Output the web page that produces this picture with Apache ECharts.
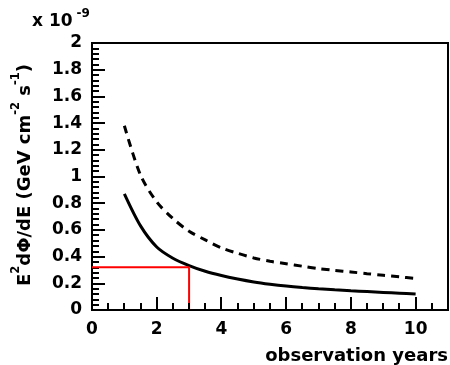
<!DOCTYPE html>
<html>
<head>
<meta charset="utf-8">
<script src="https://cdn.jsdelivr.net/npm/echarts@6/dist/echarts.min.js"></script>
<style>
  html, body { margin: 0; padding: 0; background: #fff; }
  #chart { width: 450px; height: 365px; }
</style>
</head>
<body>
<div id="chart"></div>
<script>
// Sensitivity (units of 1e-9 GeV cm^-2 s^-1) versus observation time in years
const years = [1.0, 1.5, 2.0, 2.5, 3.0, 3.5, 4.0, 4.5, 5.0, 5.5, 6.0, 6.5, 7.0, 7.5, 8.0, 8.5, 9.0, 9.5, 10.0];
const solidFlux  = [0.87, 0.63, 0.472, 0.388, 0.333, 0.29, 0.258, 0.232, 0.21, 0.193, 0.179, 0.168, 0.159, 0.151, 0.144, 0.138, 0.132, 0.126, 0.12];
const dashedFlux = [1.38, 1.01, 0.81, 0.685, 0.59, 0.525, 0.465, 0.425, 0.39, 0.365, 0.347, 0.328, 0.31, 0.297, 0.285, 0.272, 0.26, 0.248, 0.237];

// Reference marker: 3 years reaching 0.32
const markYears = 3;
const markFlux = 0.32;

const xTickLabels = ['0', '2', '4', '6', '8', '10'];
// Tick positions along the time axis (every half year; even years are major)
const xTickValues = [0, 0.5, 1, 1.5, 2, 2.5, 3, 3.5, 4, 4.5, 5, 5.5, 6, 6.5, 7, 7.5, 8, 8.5, 9, 9.5, 10, 10.5];

const pairs = (xs, ys) => xs.map((x, i) => [x, ys[i]]);

const font = 'DejaVu Sans, Liberation Sans, sans-serif';
const MAJOR_LEN = 13, MINOR_LEN = 7;
const chart = echarts.init(document.getElementById('chart'), null, { renderer: 'canvas' });

const titles = [
  {
    type: 'text', id: 'scale', x: 32, y: 30,
    style: {
      text: '{m|x 10}{s|-9}',
      textVerticalAlign: 'bottom',
      rich: {
        m: { fontFamily: font, fontWeight: 'bold', fontSize: 17, fill: '#000', lineHeight: 22, verticalAlign: 'bottom' },
        s: { fontFamily: font, fontWeight: 'bold', fontSize: 12, fill: '#000', verticalAlign: 'top', padding: [0, 0, 0, 4] }
      }
    }
  },
  {
    type: 'text', id: 'ytitle', x: 22, y: 175, rotation: Math.PI / 2,
    style: {
      text: '{t|E}{s|2}{t|dΦ/dE (GeV cm}{s|-2}{t| s}{s|-1}{t|)}',
      align: 'center', verticalAlign: 'middle',
      rich: {
        t: { fontFamily: font, fontWeight: 'bold', fontSize: 18, fill: '#000', lineHeight: 24, verticalAlign: 'bottom' },
        s: { fontFamily: font, fontWeight: 'bold', fontSize: 11.5, fill: '#000', verticalAlign: 'top' }
      }
    }
  },
  {
    type: 'text', id: 'xtitle', x: 448, y: 356,
    style: {
      text: 'observation years', align: 'right', verticalAlign: 'middle',
      fontFamily: font, fontWeight: 'bold', fontSize: 18, fill: '#000'
    }
  }
];

chart.setOption({
  animation: false,
  backgroundColor: '#ffffff',
  grid: {
    left: 92, right: 2, top: 43, bottom: 55,
    show: true, borderColor: '#000', borderWidth: 2, backgroundColor: 'transparent'
  },
  xAxis: [
    {
      type: 'value', position: 'bottom', min: 0, max: 11, interval: 2,
      axisLine: { show: true, onZero: false, lineStyle: { color: '#000', width: 2 } },
      axisTick: { show: false },
      axisLabel: {
        show: true, margin: 11, color: '#000', fontFamily: font, fontWeight: 'bold', fontSize: 17,
        showMaxLabel: false,
        formatter: v => xTickLabels.includes(String(v)) ? String(v) : ''
      },
      splitLine: { show: false }
    }
  ],
  yAxis: [
    {
      type: 'value', position: 'left', min: 0, max: 2, interval: 0.2,
      axisLine: { show: true, onZero: false, lineStyle: { color: '#000', width: 2 } },
      axisTick: { show: false },
      axisLabel: { margin: 10, color: '#000', fontFamily: font, fontWeight: 'bold', fontSize: 17 },
      splitLine: { show: false }
    },
    {
      // Tick-only axis, pulled onto the zero line so its ticks point inward
      type: 'value', position: 'right', min: 0, max: 2, interval: 0.2,
      axisLine: { show: false, onZero: true, onZeroAxisIndex: 0 },
      axisTick: { show: true, inside: false, length: MAJOR_LEN, lineStyle: { color: '#000', width: 2 } },
      minorTick: { show: true, splitNumber: 5, length: MINOR_LEN, lineStyle: { color: '#000', width: 2 } },
      axisLabel: { show: false },
      splitLine: { show: false }
    }
  ],
  graphic: titles,
  series: [
    {
      type: 'line', xAxisIndex: 0, yAxisIndex: 0, data: pairs(years, dashedFlux),
      smooth: 0.3, showSymbol: false,
      lineStyle: { color: '#000', width: 3, type: [8, 6] }
    },
    {
      type: 'line', xAxisIndex: 0, yAxisIndex: 0, data: pairs(years, solidFlux),
      smooth: 0.3, showSymbol: false,
      lineStyle: { color: '#000', width: 3 }
    },
    {
      type: 'line', xAxisIndex: 0, yAxisIndex: 0, data: [[0, markFlux], [markYears, markFlux]],
      showSymbol: false, lineStyle: { color: '#ff0000', width: 2 }
    },
    {
      type: 'line', xAxisIndex: 0, yAxisIndex: 0, data: [[markYears, 0], [markYears, markFlux]],
      showSymbol: false, lineStyle: { color: '#ff0000', width: 2 }
    }
  ]
});

// Inward tick marks on the time axis, placed through the axis scale (drawn as filled bars)
const xTicks = xTickValues.map((v, i) => {
  const p = chart.convertToPixel({ xAxisIndex: 0, yAxisIndex: 0 }, [v, 0]);
  const len = (v % 2 === 0) ? MAJOR_LEN : MINOR_LEN;
  return {
    type: 'rect', id: 'xtick' + i, z: 10, silent: true,
    shape: { x: Math.round(p[0]) - 1, y: Math.round(p[1]) - len, width: 2, height: len },
    style: { fill: '#000000', stroke: null }
  };
});
chart.setOption({ graphic: titles.concat(xTicks) });
</script>
</body>
</html>
